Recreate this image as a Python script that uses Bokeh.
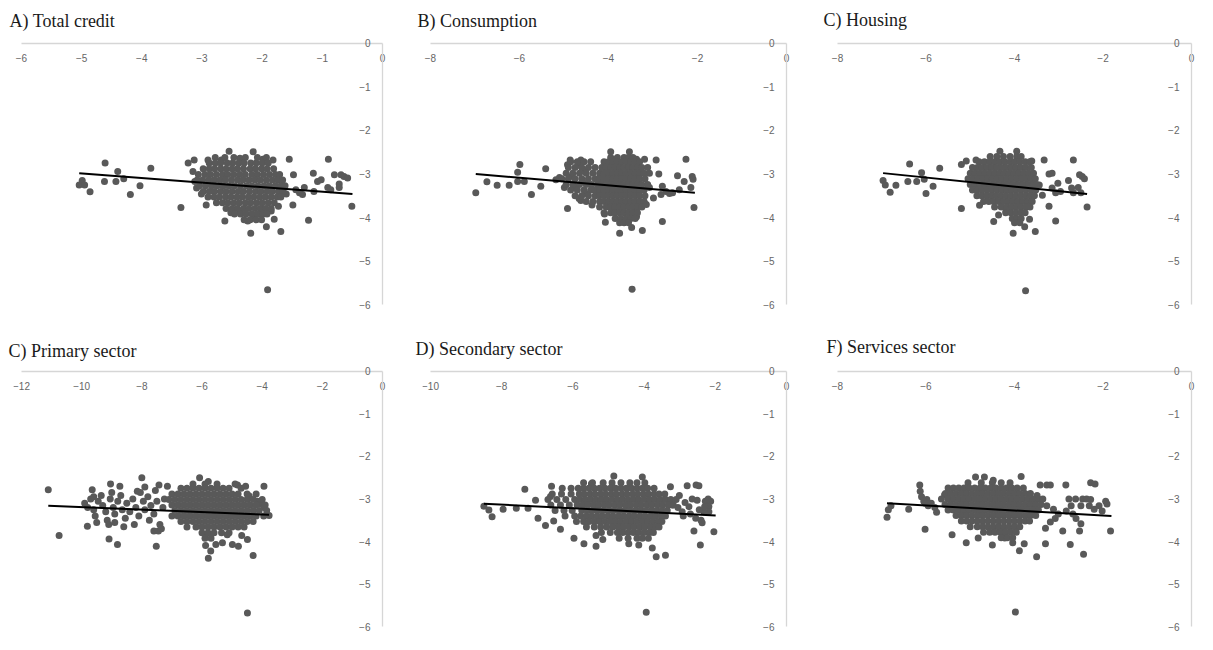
from bokeh.plotting import figure
from bokeh.models import LinearAxis, FixedTicker, Range1d
from bokeh.layouts import gridplot
from bokeh.embed import file_html
from bokeh.resources import INLINE

# ---------------- data ----------------
TITLES = ["A) Total credit", "B) Consumption", "C) Housing",
          "C) Primary sector", "D) Secondary sector", "F) Services sector"]

Y_TICKS = [-6, -5, -4, -3, -2, -1, 0]
X_TICKS_A = [-6, -5, -4, -3, -2, -1, 0]
X_TICKS_B = [-8, -6, -4, -2, 0]
X_TICKS_C = [-8, -6, -4, -2, 0]
X_TICKS_D = [-12, -10, -8, -6, -4, -2, 0]
X_TICKS_E = [-10, -8, -6, -4, -2, 0]
X_TICKS_F = [-8, -6, -4, -2, 0]

# trend lines (end points)
A_TREND_X, A_TREND_Y = [-5.04, -0.50], [-2.98, -3.46]
B_TREND_X, B_TREND_Y = [-6.98, -2.06], [-3.00, -3.43]
C_TREND_X, C_TREND_Y = [-6.97, -2.36], [-2.98, -3.46]
D_TREND_X, D_TREND_Y = [-11.11, -3.77], [-3.16, -3.37]
E_TREND_X, E_TREND_Y = [-8.50, -1.99], [-3.11, -3.39]
F_TREND_X, F_TREND_Y = [-6.88, -1.81], [-3.10, -3.40]

# ---- Panel A: Total credit ----
A_SPARSE = [(-5.04, -3.25), (-4.99, -3.15), (-4.95, -3.25), (-4.86, -3.41), (-4.61, -2.75),
            (-4.62, -3.17), (-4.43, -3.17), (-4.40, -2.94), (-4.30, -3.11), (-4.19, -3.47),
            (-4.03, -3.27), (-3.85, -2.87), (-3.35, -3.77), (-3.23, -2.75), (-3.13, -2.68),
            (-3.15, -2.94), (-3.12, -3.17), (-3.09, -3.32), (-3.01, -3.46), (-2.93, -3.71),
            (-2.90, -2.68), (-1.55, -2.66), (-1.48, -3.02), (-1.49, -3.71), (-1.60, -3.46),
            (-1.23, -4.06), (-1.15, -2.98), (-1.08, -3.17), (-1.02, -3.13), (-0.90, -2.66),
            (-0.80, -3.02), (-0.69, -3.02), (-0.64, -3.06), (-0.58, -3.09), (-0.72, -3.23),
            (-0.72, -3.31), (-0.91, -3.31), (-0.86, -3.36), (-0.51, -3.74), (-1.30, -3.31),
            (-1.38, -3.43), (-1.44, -3.36), (-1.14, -3.40), (-1.33, -3.47), (-2.62, -4.08),
            (-2.19, -4.36), (-1.93, -4.21), (-1.69, -4.32), (-1.80, -4.04), (-1.91, -5.66),
            (-2.52, -3.89), (-2.37, -3.85), (-2.24, -4.08), (-2.13, -4.00), (-2.02, -3.92),
            (-1.85, -3.85), (-1.73, -3.74), (-2.55, -2.48), (-2.15, -2.49), (-1.99, -2.66),
            (-1.82, -2.68), (-2.37, -2.64), (-2.68, -2.68)]
A_CORE_Y = [-2.62, -2.75, -2.88, -3.01, -3.14, -3.27, -3.40, -3.53, -3.66, -3.79, -3.92, -4.05]
A_CORE_X = [
    [-2.78, -2.62, -2.47, -2.28, -2.08, -1.93],
    [-2.88, -2.78, -2.69, -2.58, -2.49, -2.39, -2.30, -2.19, -2.10, -2.00, -1.90],
    [-2.98, -2.88, -2.79, -2.69, -2.60, -2.50, -2.41, -2.31, -2.20, -2.11, -2.01, -1.92, -1.81],
    [-3.06, -2.95, -2.86, -2.76, -2.66, -2.57, -2.47, -2.37, -2.28, -2.17, -2.08, -1.98, -1.88, -1.78, -1.71],
    [-3.08, -2.99, -2.89, -2.80, -2.70, -2.61, -2.51, -2.41, -2.32, -2.22, -2.12, -2.03, -1.93, -1.83, -1.74, -1.66],
    [-3.04, -2.94, -2.84, -2.75, -2.65, -2.55, -2.46, -2.36, -2.26, -2.17, -2.07, -1.97, -1.88, -1.78, -1.69, -1.62],
    [-2.98, -2.88, -2.79, -2.69, -2.60, -2.50, -2.40, -2.31, -2.21, -2.11, -2.02, -1.92, -1.83, -1.73, -1.65],
    [-2.90, -2.80, -2.71, -2.61, -2.52, -2.42, -2.33, -2.23, -2.14, -2.04, -1.95, -1.85, -1.75, -1.69],
    [-2.76, -2.66, -2.57, -2.47, -2.38, -2.28, -2.19, -2.09, -2.00, -1.90, -1.80],
    [-2.60, -2.50, -2.41, -2.31, -2.22, -2.12, -2.03, -1.94, -1.85],
    [-2.46, -2.36, -2.27, -2.17, -2.08, -1.98, -1.92],
    [-2.30, -2.20, -2.10, -2.01],
]

# ---- Panel B: Consumption ----
B_SPARSE = [(-6.98, -3.43), (-6.73, -3.18), (-6.50, -3.26), (-6.23, -3.26), (-5.99, -2.78),
            (-6.04, -2.96), (-6.04, -3.17), (-5.89, -3.17), (-5.73, -3.47), (-5.52, -3.28),
            (-5.41, -2.88), (-5.18, -3.13), (-5.10, -3.08), (-4.99, -3.31), (-4.92, -3.79),
            (-4.92, -2.79), (-4.86, -2.68), (-4.62, -2.68), (-4.62, -3.61), (-4.37, -3.71),
            (-4.09, -3.92), (-4.07, -4.11), (-3.75, -4.36), (-3.48, -4.23), (-3.24, -4.30),
            (-3.47, -5.65), (-3.37, -3.98), (-2.79, -4.09), (-2.93, -2.68), (-2.87, -3.00),
            (-3.15, -3.70), (-3.19, -2.66), (-3.37, -2.66), (-2.26, -2.66), (-2.45, -3.04),
            (-2.30, -3.17), (-2.15, -3.31), (-2.12, -3.06), (-2.10, -3.12), (-2.08, -3.77),
            (-2.56, -3.43), (-2.79, -3.28), (-2.82, -3.47), (-2.99, -3.55), (-3.08, -3.31),
            (-2.71, -3.40), (-2.63, -3.45), (-2.41, -3.36), (-3.95, -2.49), (-3.53, -2.49),
            (-4.68, -2.80), (-4.52, -2.92), (-4.82, -3.05), (-4.58, -3.18), (-4.75, -3.30),
            (-4.52, -3.44), (-4.66, -3.56)]
B_CORE_Y = [-2.62, -2.72, -2.85, -2.98, -3.11, -3.24, -3.37, -3.50, -3.63, -3.76, -3.89, -4.02, -4.12]
B_CORE_X = [
    [-3.95, -3.80, -3.65, -3.55, -3.45],
    [-4.85, -4.70, -4.55, -4.40, -4.10, -4.00, -3.90, -3.80, -3.70, -3.60, -3.50, -3.40, -3.30],
    [-4.90, -4.75, -4.60, -4.45, -4.30, -4.15, -4.05, -3.95, -3.85, -3.75, -3.65, -3.55, -3.45, -3.35, -3.25, -3.12],
    [-4.95, -4.80, -4.65, -4.50, -4.35, -4.20, -4.10, -4.00, -3.90, -3.80, -3.70, -3.60, -3.50, -3.40, -3.30, -3.20, -3.08],
    [-5.05, -4.90, -4.75, -4.60, -4.45, -4.30, -4.20, -4.10, -4.00, -3.90, -3.80, -3.70, -3.60, -3.50, -3.40, -3.30, -3.18],
    [-4.95, -4.80, -4.65, -4.50, -4.38, -4.25, -4.15, -4.05, -3.95, -3.85, -3.75, -3.65, -3.55, -3.45, -3.35, -3.25, -3.12],
    [-4.85, -4.70, -4.55, -4.40, -4.30, -4.20, -4.10, -4.00, -3.90, -3.80, -3.70, -3.60, -3.50, -3.40, -3.30, -3.20],
    [-4.75, -4.60, -4.45, -4.30, -4.20, -4.10, -4.00, -3.90, -3.80, -3.70, -3.60, -3.50, -3.40, -3.30, -3.18],
    [-4.50, -4.35, -4.20, -4.10, -4.00, -3.90, -3.80, -3.70, -3.60, -3.50, -3.40, -3.30, -3.20],
    [-4.20, -4.05, -3.95, -3.85, -3.75, -3.65, -3.55, -3.45, -3.35, -3.25],
    [-4.10, -3.95, -3.85, -3.75, -3.65, -3.55, -3.45, -3.35],
    [-3.85, -3.72, -3.60, -3.50, -3.40],
    [-3.75, -3.65, -3.55],
]

# ---- Panel C: Housing ----
C_SPARSE = [(-6.97, -3.15), (-6.92, -3.25), (-6.81, -3.42), (-6.68, -3.26), (-6.41, -3.17),
            (-6.37, -2.77), (-6.21, -3.17), (-6.10, -2.97), (-6.04, -3.12), (-6.00, -3.45),
            (-5.84, -3.28), (-5.69, -2.87), (-5.20, -3.79), (-5.20, -2.78), (-5.09, -2.70),
            (-4.87, -2.68), (-4.79, -3.72), (-4.47, -4.09), (-4.36, -3.94), (-4.19, -3.85),
            (-4.03, -4.36), (-3.77, -4.21), (-3.53, -4.32), (-3.66, -4.04), (-3.75, -5.68),
            (-4.33, -2.48), (-3.95, -2.48), (-3.61, -2.70), (-3.33, -2.68), (-3.22, -3.00),
            (-3.15, -2.98), (-3.22, -3.74), (-3.07, -4.08), (-3.02, -3.21), (-3.15, -3.32),
            (-3.07, -3.43), (-2.96, -3.40), (-2.78, -3.15), (-2.67, -2.68), (-2.71, -3.32),
            (-2.67, -3.43), (-2.56, -3.31), (-2.53, -3.02), (-2.47, -3.06), (-2.42, -3.11),
            (-2.50, -3.43), (-2.36, -3.76), (-3.37, -3.49), (-3.44, -3.25)]
C_CORE_Y = [-2.60, -2.72, -2.85, -2.98, -3.11, -3.24, -3.37, -3.50, -3.63, -3.76, -3.89, -4.02, -4.12]
C_CORE_X = [
    [-4.55, -4.40, -4.25, -4.10, -3.95, -3.85],
    [-4.80, -4.68, -4.56, -4.45, -4.34, -4.22, -4.10, -4.00, -3.88, -3.76, -3.66],
    [-4.95, -4.84, -4.73, -4.62, -4.51, -4.40, -4.29, -4.18, -4.07, -3.96, -3.85, -3.74, -3.62],
    [-5.00, -4.89, -4.78, -4.67, -4.56, -4.45, -4.34, -4.23, -4.12, -4.01, -3.90, -3.79, -3.68, -3.57],
    [-5.05, -4.94, -4.83, -4.72, -4.61, -4.50, -4.39, -4.28, -4.17, -4.06, -3.95, -3.84, -3.73, -3.62, -3.53],
    [-5.00, -4.89, -4.78, -4.67, -4.56, -4.45, -4.34, -4.23, -4.12, -4.01, -3.90, -3.79, -3.68, -3.57, -3.50],
    [-4.95, -4.84, -4.73, -4.62, -4.51, -4.40, -4.29, -4.18, -4.07, -3.96, -3.85, -3.74, -3.63, -3.52],
    [-4.85, -4.74, -4.63, -4.52, -4.41, -4.30, -4.19, -4.08, -3.97, -3.86, -3.75, -3.64, -3.55],
    [-4.70, -4.58, -4.47, -4.36, -4.25, -4.14, -4.03, -3.92, -3.81, -3.70, -3.60],
    [-4.45, -4.30, -4.18, -4.07, -3.96, -3.85, -3.74, -3.65],
    [-4.20, -4.08, -3.97, -3.86, -3.76],
    [-4.05, -3.95, -3.85],
    [-4.00, -3.88],
]

# ---- Panel D: Primary sector ----
D_SPARSE = [(-11.11, -2.78), (-10.75, -3.86), (-9.81, -3.64), (-9.65, -2.78), (-9.09, -3.94),
            (-9.04, -2.65), (-8.81, -4.07), (-8.73, -2.70), (-8.00, -2.50), (-7.52, -4.11),
            (-7.43, -2.67), (-7.15, -2.70), (-6.08, -2.50), (-5.79, -2.59), (-5.88, -4.09),
            (-5.79, -4.39), (-5.71, -4.22), (-5.54, -4.07), (-5.32, -4.03), (-5.16, -3.84),
            (-4.99, -4.07), (-4.79, -4.11), (-4.68, -3.86), (-4.49, -3.95), (-4.30, -4.33),
            (-4.49, -5.68), (-3.94, -2.70), (-4.43, -2.93), (-4.16, -3.05), (-4.05, -3.12),
            (-3.94, -3.20), (-3.77, -3.39), (-4.82, -2.67), (-4.55, -2.70),
            (-9.90, -3.10), (-9.80, -3.20), (-9.70, -3.00), (-9.60, -3.25), (-9.55, -3.40),
            (-9.45, -3.05), (-9.35, -2.92), (-9.30, -3.15), (-9.20, -3.30), (-9.15, -3.50),
            (-9.05, -3.00), (-8.95, -3.20), (-8.90, -3.35), (-8.80, -3.05), (-8.70, -2.92),
            (-8.65, -3.25), (-8.55, -3.45), (-8.50, -3.10), (-8.40, -3.30), (-8.30, -3.00),
            (-8.25, -3.60), (-8.20, -3.20), (-8.10, -3.40), (-8.05, -2.85), (-7.95, -3.05),
            (-7.90, -3.25), (-7.80, -2.95), (-7.75, -3.50), (-7.70, -3.15), (-7.60, -3.35),
            (-7.55, -2.80), (-7.50, -3.05), (-7.40, -3.60), (-7.45, -3.75), (-7.35, -3.70),
            (-7.60, -3.75), (-7.30, -3.20), (-7.25, -3.00), (-8.60, -3.65), (-8.90, -3.55),
            (-9.10, -3.60), (-9.50, -3.55), (-7.90, -2.72), (-8.15, -2.82), (-9.60, -2.95),
            (-9.00, -2.85)]
D_CORE_Y = [-2.65, -2.75, -2.88, -3.01, -3.14, -3.27, -3.40, -3.53, -3.66, -3.79, -3.92]
D_CORE_X = [
    [-6.3, -5.9, -5.5, -4.9],
    [-6.7, -6.5, -6.3, -6.1, -5.9, -5.7, -5.5, -5.3, -5.1, -4.7],
    [-7.0, -6.8, -6.6, -6.4, -6.2, -6.0, -5.8, -5.6, -5.4, -5.2, -5.0, -4.8, -4.5, -4.2],
    [-7.1, -6.9, -6.7, -6.5, -6.3, -6.1, -5.9, -5.7, -5.5, -5.3, -5.1, -4.9, -4.7, -4.5, -4.3, -4.0],
    [-7.0, -6.8, -6.6, -6.4, -6.2, -6.0, -5.8, -5.6, -5.4, -5.2, -5.0, -4.8, -4.6, -4.4, -4.2, -3.9],
    [-6.9, -6.7, -6.5, -6.3, -6.1, -5.9, -5.7, -5.5, -5.3, -5.1, -4.9, -4.7, -4.5, -4.3, -4.1, -3.85],
    [-7.0, -6.8, -6.6, -6.4, -6.2, -6.0, -5.8, -5.6, -5.4, -5.2, -5.0, -4.8, -4.6, -4.4, -4.2, -3.95],
    [-6.7, -6.5, -6.3, -6.1, -5.9, -5.7, -5.5, -5.3, -5.1, -4.9, -4.7, -4.5, -4.3],
    [-6.5, -6.2, -6.0, -5.8, -5.6, -5.4, -5.2, -5.0, -4.8, -4.6],
    [-6.0, -5.8, -5.6, -5.35, -5.1],
    [-5.9, -5.7],
]

# ---- Panel E: Secondary sector ----
E_SPARSE = [(-8.50, -3.17), (-8.36, -3.26), (-8.27, -3.42), (-7.96, -3.24), (-7.59, -3.22),
            (-7.35, -2.77), (-7.26, -3.22), (-6.98, -3.45), (-7.05, -3.03), (-6.77, -3.62),
            (-6.63, -2.94), (-6.60, -2.70), (-6.54, -3.52), (-6.35, -3.71), (-5.97, -3.92),
            (-5.69, -4.05), (-5.35, -4.11), (-5.16, -3.95), (-5.35, -3.86), (-5.48, -2.64),
            (-4.85, -2.46), (-4.43, -4.05), (-4.15, -4.08), (-4.05, -2.48), (-3.77, -4.15),
            (-3.66, -4.36), (-3.40, -4.32), (-3.94, -5.66), (-3.26, -2.71), (-2.79, -2.69),
            (-2.54, -2.67), (-2.46, -2.69), (-2.60, -3.75), (-2.42, -4.08), (-2.04, -3.77),
            (-2.51, -3.03), (-2.28, -3.05), (-2.13, -3.05), (-2.18, -3.18), (-2.18, -3.30),
            (-2.32, -3.30), (-2.37, -3.56), (-2.74, -3.18), (-2.93, -3.30), (-3.01, -2.92),
            (-3.21, -3.14), (-3.05, -3.20), (-2.85, -3.08), (-2.65, -3.00), (-2.90, -3.40),
            (-2.70, -3.35), (-2.45, -3.25), (-2.55, -3.45), (-2.40, -3.50), (-2.30, -3.18),
            (-2.20, -3.00)]
E_CORE_Y = [-2.62, -2.75, -2.88, -3.01, -3.14, -3.27, -3.40, -3.53, -3.66, -3.79, -3.92]
E_CORE_X = [
    [-5.70, -5.45, -5.15, -4.90, -4.65, -4.40, -4.20, -3.98],
    [-6.30, -6.05, -5.85, -5.70, -5.55, -5.40, -5.25, -5.10, -4.95, -4.80, -4.65, -4.50, -4.35,
     -4.20, -4.05, -3.90, -3.72],
    [-6.58, -6.32, -6.05, -5.82, -5.68, -5.52, -5.38, -5.22, -5.08, -4.92, -4.78, -4.62, -4.48,
     -4.32, -4.18, -4.02, -3.88, -3.72, -3.58, -3.42],
    [-6.70, -6.45, -6.20, -5.95, -5.80, -5.65, -5.50, -5.35, -5.20, -5.05, -4.90, -4.75, -4.60,
     -4.45, -4.30, -4.15, -4.00, -3.85, -3.70, -3.55, -3.40, -3.25, -3.10],
    [-6.62, -6.35, -6.10, -5.88, -5.72, -5.58, -5.42, -5.28, -5.12, -4.98, -4.82, -4.68, -4.52,
     -4.38, -4.22, -4.08, -3.92, -3.78, -3.62, -3.48, -3.32, -3.18],
    [-6.50, -6.25, -6.02, -5.75, -5.60, -5.45, -5.30, -5.15, -5.00, -4.85, -4.70, -4.55, -4.40,
     -4.25, -4.10, -3.95, -3.80, -3.65, -3.50, -3.35],
    [-6.22, -5.95, -5.78, -5.62, -5.48, -5.32, -5.18, -5.02, -4.88, -4.72, -4.58, -4.42, -4.28,
     -4.12, -3.98, -3.82, -3.68, -3.52, -3.40],
    [-5.90, -5.70, -5.55, -5.40, -5.25, -5.10, -4.95, -4.80, -4.65, -4.50, -4.35, -4.20, -4.05,
     -3.90, -3.75, -3.60, -3.50],
    [-5.62, -5.40, -5.22, -5.05, -4.88, -4.72, -4.58, -4.42, -4.28, -4.12, -3.98, -3.82, -3.68, -3.58],
    [-5.20, -4.95, -4.75, -4.60, -4.45, -4.30, -4.15, -4.00, -3.85, -3.74],
    [-4.70, -4.45, -4.20, -4.05, -3.88],
]

# ---- Panel F: Services sector ----
F_SPARSE = [(-6.88, -3.43), (-6.85, -3.25), (-6.79, -3.16), (-6.39, -3.24), (-6.14, -2.67),
            (-6.13, -2.82), (-6.02, -3.71), (-5.98, -3.01), (-5.95, -3.16), (-5.76, -3.31),
            (-5.58, -2.90), (-5.41, -3.84), (-5.09, -4.03), (-4.88, -2.48), (-4.82, -3.92),
            (-4.68, -2.48), (-4.50, -4.08), (-4.48, -2.56), (-3.85, -2.47), (-4.22, -3.92),
            (-4.04, -4.03), (-3.89, -4.22), (-3.78, -4.05), (-3.50, -4.36), (-3.30, -4.05),
            (-3.98, -5.66), (-3.49, -2.92), (-3.42, -2.67), (-3.27, -2.67), (-3.19, -2.67),
            (-2.84, -2.67), (-2.74, -4.07), (-2.44, -4.30), (-2.28, -2.62), (-2.18, -2.65),
            (-1.94, -3.05), (-1.91, -3.12), (-1.83, -3.75), (-2.53, -3.75), (-2.91, -3.75),
            (-3.08, -3.46), (-2.61, -3.46), (-2.50, -3.58), (-2.77, -3.00), (-2.62, -3.00),
            (-2.46, -3.00), (-2.37, -3.00), (-2.28, -3.01), (-2.31, -3.16), (-2.20, -3.24),
            (-2.09, -3.16), (-2.02, -3.28), (-2.50, -3.16), (-2.72, -3.16), (-2.83, -3.28),
            (-2.68, -3.35), (-3.27, -3.16), (-3.12, -3.24), (-3.01, -3.35), (-3.19, -3.54),
            (-3.30, -3.69), (-6.10, -2.95), (-6.05, -3.05), (-6.02, -3.10), (-5.88, -3.10),
            (-5.80, -3.20)]
F_CORE_Y = [-2.62, -2.74, -2.87, -3.00, -3.13, -3.26, -3.39, -3.52, -3.65, -3.78, -3.91]
F_CORE_X = [
    [-5.05, -4.75, -4.50, -4.30, -4.10],
    [-5.50, -5.38, -5.26, -5.14, -5.02, -4.90, -4.78, -4.66, -4.54, -4.42, -4.30, -4.18, -4.06,
     -3.94, -3.80],
    [-5.56, -5.44, -5.32, -5.20, -5.08, -4.96, -4.84, -4.72, -4.60, -4.48, -4.36, -4.24, -4.12,
     -4.00, -3.88, -3.76, -3.64],
    [-5.65, -5.50, -5.38, -5.26, -5.14, -5.02, -4.90, -4.78, -4.66, -4.54, -4.42, -4.30, -4.18,
     -4.06, -3.94, -3.82, -3.70, -3.58, -3.46, -3.36],
    [-5.57, -5.44, -5.32, -5.20, -5.08, -4.96, -4.84, -4.72, -4.60, -4.48, -4.36, -4.24, -4.12,
     -4.00, -3.88, -3.76, -3.64, -3.52, -3.40],
    [-5.50, -5.38, -5.26, -5.14, -5.02, -4.90, -4.78, -4.66, -4.54, -4.42, -4.30, -4.18, -4.06,
     -3.94, -3.82, -3.70, -3.58, -3.46],
    [-5.32, -5.20, -5.08, -4.96, -4.84, -4.72, -4.60, -4.48, -4.36, -4.24, -4.12, -4.00, -3.88,
     -3.76, -3.64, -3.52],
    [-5.20, -5.08, -4.96, -4.84, -4.72, -4.60, -4.48, -4.36, -4.24, -4.12, -4.00, -3.88, -3.76, -3.66],
    [-5.00, -4.84, -4.72, -4.60, -4.48, -4.36, -4.24, -4.12, -4.00, -3.88],
    [-4.70, -4.56, -4.44, -4.32, -4.20, -4.08, -3.96],
    [-4.30, -4.16, -4.04],
]

# ---------------- styling / layout ----------------
DOT = "#595959"
AXIS_LINE = "#d6d6d6"
TICK_TXT = "#666666"
PAD_L, PAD_R, PAD_T, PAD_B = 8, 6, 7, 7


def collect(sparse, core_y, core_x):
    xs = [p[0] for p in sparse]
    ys = [p[1] for p in sparse]
    for yv, row in zip(core_y, core_x):
        xs.extend(row)
        ys.extend([yv] * len(row))
    return xs, ys


def make_panel(title, xticks, sparse, core_y, core_x, tx, ty,
               origin, size, axbox, title_pos):
    ox, oy = origin
    w, h = size
    L, R, T, B = axbox            # page pixel box of the two axes
    tl, tc = title_pos           # title left edge, title vertical centre
    xmin = xticks[0]
    ux = (0 - xmin) / (R - L)    # data units per pixel
    uy = 6.0 / (B - T)
    x_range = Range1d(xmin - PAD_L * ux, PAD_R * ux)
    y_range = Range1d(-6 - PAD_B * uy, PAD_T * uy)
    fl, fr, ft, fb = L - PAD_L, R + PAD_R, T - PAD_T, B + PAD_B
    p = figure(width=w, height=h, output_backend="svg", toolbar_location=None,
               x_range=x_range, y_range=y_range,
               x_axis_location=None, y_axis_location=None,
               min_border_left=fl - ox, min_border_right=ox + w - fr,
               min_border_top=ft - oy, min_border_bottom=oy + h - fb,
               background_fill_color="white", border_fill_color="white",
               outline_line_color=None)
    p.grid.visible = False

    p.title.text = title
    p.title.text_font = "Liberation Serif"
    p.title.text_font_size = "18px"
    p.title.text_font_style = "normal"
    p.title.text_color = "#1a1a1a"
    p.title.align = "left"
    p.title.offset = tl - fl + 6
    p.title.standoff = max(ft - tc - 9, 0)

    common = dict(axis_line_color=AXIS_LINE, axis_line_width=1.3,
                  major_tick_line_color=None, minor_tick_line_color=None,
                  major_tick_out=0, major_tick_in=0, minor_tick_out=0, minor_tick_in=0,
                  major_label_text_color=TICK_TXT, major_label_text_font="Liberation Sans",
                  major_label_text_font_size="10px")
    xaxis = LinearAxis(fixed_location=0, ticker=FixedTicker(ticks=xticks), bounds=(xmin, 0),
                       major_label_standoff=11, **common)
    yaxis = LinearAxis(fixed_location=0, ticker=FixedTicker(ticks=Y_TICKS), bounds=(-6, 0),
                       major_label_standoff=12, **common)
    p.add_layout(xaxis, "below")
    p.add_layout(yaxis, "left")

    xs, ys = collect(sparse, core_y, core_x)
    p.scatter(xs, ys, size=7, fill_color=DOT, line_color=None)
    p.line(tx, ty, line_color="black", line_width=2)
    return p


pa = make_panel(TITLES[0], X_TICKS_A, A_SPARSE, A_CORE_Y, A_CORE_X, A_TREND_X, A_TREND_Y,
                (8, 8), (405, 320), (28, 392, 47, 312), (10, 19))
pb = make_panel(TITLES[1], X_TICKS_B, B_SPARSE, B_CORE_Y, B_CORE_X, B_TREND_X, B_TREND_Y,
                (413, 8), (405, 320), (436, 799, 47, 312), (417, 19))
pc = make_panel(TITLES[2], X_TICKS_C, C_SPARSE, C_CORE_Y, C_CORE_X, C_TREND_X, C_TREND_Y,
                (818, 8), (387, 320), (845, 1199, 50, 313), (825, 20))
pd = make_panel(TITLES[3], X_TICKS_D, D_SPARSE, D_CORE_Y, D_CORE_X, D_TREND_X, D_TREND_Y,
                (8, 328), (405, 314), (29, 390, 371, 634), (10, 347))
pe = make_panel(TITLES[4], X_TICKS_E, E_SPARSE, E_CORE_Y, E_CORE_X, E_TREND_X, E_TREND_Y,
                (413, 328), (405, 314), (438, 794, 375, 635), (417, 348))
pf = make_panel(TITLES[5], X_TICKS_F, F_SPARSE, F_CORE_Y, F_CORE_X, F_TREND_X, F_TREND_Y,
                (818, 328), (387, 314), (842, 1199, 379, 635), (825, 348))

grid = gridplot([[pa, pb, pc], [pd, pe, pf]], toolbar_location=None)

open("out.html", "w").write(file_html(grid, INLINE))
